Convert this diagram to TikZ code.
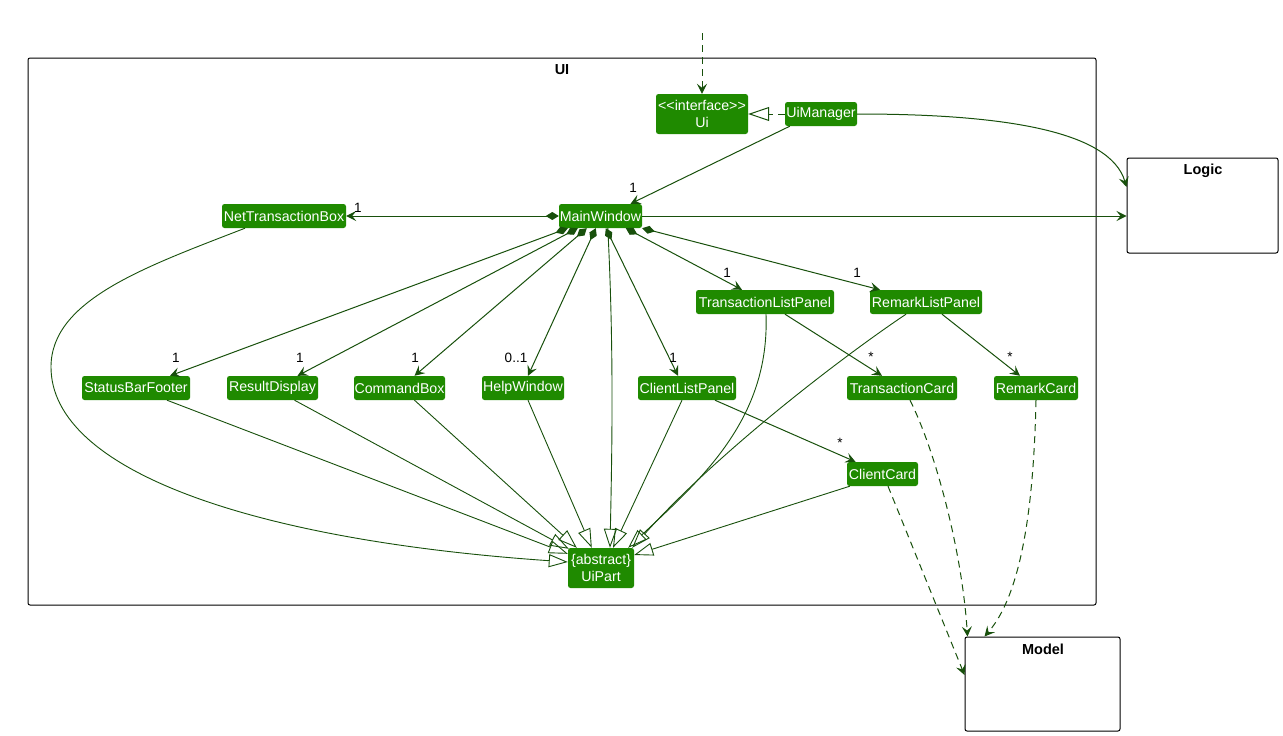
\documentclass[tikz,border=0pt]{standalone}
\usepackage{fontspec}
\setmainfont{Liberation Sans}
\usetikzlibrary{arrows.meta,calc}
\definecolor{cfill}{RGB}{31,138,0}
\definecolor{lcol}{RGB}{24,80,12}
\begin{document}
\begin{tikzpicture}[x=1pt,y=-1pt,
  cls/.style={fill=cfill, text=white, rounded corners=2.5pt, inner sep=0pt, minimum height=24pt, font=\fontsize{14.2}{17}\selectfont},
  pkg/.style={draw=black, line width=1pt, rounded corners=2pt, inner sep=0pt},
  ptitle/.style={font=\fontsize{14.5}{16}\selectfont\bfseries, inner sep=0pt},
  mult/.style={font=\fontsize{13.5}{15}\selectfont, inner sep=0pt},
  assoc/.style={draw=lcol, line width=1pt, -{Stealth[length=10pt,width=10pt,inset=4pt]}},
  comp/.style={draw=lcol, line width=1pt, {Diamond[length=13pt,width=8pt]}-{Stealth[length=10pt,width=10pt,inset=4pt]}},
  gen/.style={draw=lcol, line width=0.9pt, -{Triangle[open,length=19pt,width=13pt]}},
  dep/.style={assoc, dash pattern=on 7pt off 5pt},
  real/.style={draw=lcol, line width=1pt, dash pattern=on 7pt off 5pt, -{Triangle[open,length=21pt,width=14pt]}},
]
\useasboundingbox (0,0) rectangle (1283,736);
\fill[white] (0,0) rectangle (1283,736);

% packages
\node[pkg, minimum width=1068pt, minimum height=547pt] (uipkg) at (562,331.5) {};
\node[ptitle] (uilabel) at (562,70) {UI};
\node[pkg, minimum width=151pt, minimum height=95pt] (logic) at (1202.5,205.5) {};
\node[ptitle] (logiclabel) at (1203,171) {Logic};
\node[pkg, minimum width=155pt, minimum height=94pt] (model) at (1042.5,684) {};
\node[ptitle] (modellabel) at (1043,649) {Model};

% classes
\node[cls, minimum width=92pt, minimum height=40pt, align=center] (ui) at (702,114) {{<}{<}interface{>}{>}\\Ui};
\node[cls, minimum width=72pt] (um) at (821,114) {UiManager};
\node[cls, minimum width=83pt] (mw) at (600.5,216) {MainWindow};
\node[cls, minimum width=124pt] (ntb) at (284,216) {NetTransactionBox};
\node[cls, minimum width=138pt] (tlp) at (765,302) {TransactionListPanel};
\node[cls, minimum width=112pt] (rlp) at (926,302) {RemarkListPanel};
\node[cls, minimum width=108pt] (sbf) at (136,388) {StatusBarFooter};
\node[cls, minimum width=91pt] (rd) at (272.5,388) {ResultDisplay};
\node[cls, minimum width=91pt] (cb) at (399.5,388) {CommandBox};
\node[cls, minimum width=82pt] (hw) at (523,388) {HelpWindow};
\node[cls, minimum width=98pt] (clp) at (687,388) {ClientListPanel};
\node[cls, minimum width=110pt] (tc) at (902,388) {TransactionCard};
\node[cls, minimum width=84pt] (rc) at (1036,388) {RemarkCard};
\node[cls, minimum width=71pt] (cc) at (882.5,474) {ClientCard};
\node[cls, minimum width=66pt, minimum height=40pt, align=center] (up) at (601,568) {\{abstract\}\\UiPart};

% top dependency and realization
\coordinate (top) at (702,33);
\draw[dep] (top) -- (ui.north);
\draw[real] (um.west) -- (ui.east);

% UiManager
\draw[assoc] ($(um.south west)+(5,0)$) -- ($(mw.north)+(30,0)$);
\draw[assoc] (um.east) .. controls (1000,114) and (1110,130) .. ($(logic.west)+(0,-18.5)$);
\draw[assoc] (mw.east) -- ($(logic.west)+(0,10.5)$);

% compositions from MainWindow
\draw[comp] (mw.west) -- (ntb.east);
\draw[comp] ($(mw.south west)+(9,0)$) -- ($(sbf.north)+(34,0)$);
\draw[comp] ($(mw.south west)+(19,0)$) -- ($(rd.north)+(25,0)$);
\draw[comp] ($(mw.south west)+(28,0)$) -- ($(cb.north)+(15,0)$);
\draw[comp] ($(mw.south west)+(37,0)$) -- ($(hw.north)+(5,0)$);
\draw[comp] ($(mw.south west)+(47,0)$) -- ($(clp.north)+(-9,0)$);
\draw[comp] ($(mw.south west)+(67,0)$) -- ($(tlp.north)+(-23,0)$);
\draw[comp] (mw.south east) -- ($(rlp.north)+(-46,0)$);

% generalizations to UiPart
\draw[gen] ($(ntb.south)+(-39,0)$) .. controls (145,267) and (51,300) .. (51,367) .. controls (51,470) and (250,540) .. ($(up.west)+(0,-6)$);
\draw[gen] ($(sbf.south)+(31,0)$) -- ($(up.north west)+(0,6)$);
\draw[gen] ($(rd.south)+(22,0)$) -- ($(up.north west)+(1,1)$);
\draw[gen] ($(cb.south)+(15,0)$) -- ($(up.north west)+(9,0)$);
\draw[gen] ($(hw.south)+(5,0)$) -- ($(up.north west)+(24,0)$);
\draw[gen] ($(mw.south west)+(49,0)$) .. controls (614,350) and (612,450) .. ($(up.north)+(9,0)$);
\draw[gen] ($(clp.south)+(-5,0)$) -- ($(up.north)+(12,0)$);
\draw[gen] ($(tlp.south)+(1,0)$) .. controls (770,420) and (700,480) .. ($(up.north east)+(-6,0)$);
\draw[gen] ($(rlp.south)+(-20,0)$) .. controls (845,355) and (720,450) .. ($(up.north east)+(-2,0)$);
\draw[gen] ($(cc.south west)+(3,0)$) -- ($(up.east)+(0,-13)$);

% list panels to cards
\draw[assoc] ($(clp.south)+(28,0)$) -- ($(cc.north)+(-27,0)$);
\draw[assoc] ($(tlp.south)+(20,0)$) -- ($(tc.north)+(-20,0)$);
\draw[assoc] ($(rlp.south)+(16,0)$) -- ($(rc.north)+(-16,0)$);

% dependencies to Model
\draw[dep] ($(cc.south)+(5.5,0)$) -- ($(model.west)+(0,-9)$);
\draw[dep] ($(tc.south)+(8,0)$) .. controls (935,450) and (962,550) .. ($(model.north west)+(3,0)$);
\draw[dep] (rc.south) .. controls (1034,490) and (1025,590) .. ($(model.north west)+(20,0)$);

% multiplicities
\node[mult] (m1) at (633,188) {1};
\node[mult] (m2) at (358,208) {1};
\node[mult] (m3) at (176,358) {1};
\node[mult] (m4) at (300,358) {1};
\node[mult] (m5) at (415,358) {1};
\node[mult] (m6) at (516,358) {0..1};
\node[mult] (m7) at (673,358) {1};
\node[mult] (m8) at (727,273) {1};
\node[mult] (m9) at (857,273) {1};
\node[mult] (m10) at (871,357) {*};
\node[mult] (m11) at (1010,357) {*};
\node[mult] (m12) at (840,443) {*};
\end{tikzpicture}
\end{document}
